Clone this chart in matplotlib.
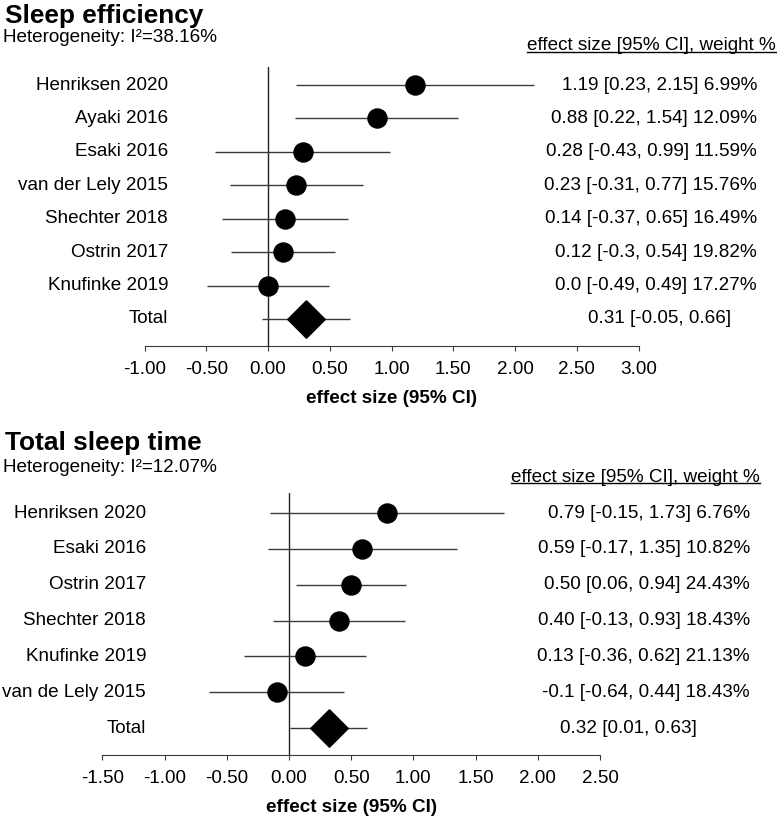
import numpy as np
import matplotlib
matplotlib.use("Agg")
import matplotlib.pyplot as plt
from matplotlib.transforms import blended_transform_factory
from matplotlib.lines import Line2D

plt.rcParams['font.family'] = ['Liberation Sans', 'DejaVu Sans']

# sleep efficiency
se_studies = ["Henriksen 2020", "Ayaki 2016", "Esaki 2016", "van der Lely 2015",
              "Shechter 2018", "Ostrin 2017", "Knufinke 2019"]
se_est = [1.19, 0.88, 0.28, 0.23, 0.14, 0.12, 0.0]
se_est_txt = ["1.19", "0.88", "0.28", "0.23", "0.14", "0.12", "0.0"]
se_lo = [0.23, 0.22, -0.43, -0.31, -0.37, -0.3, -0.49]
se_hi = [2.15, 1.54, 0.99, 0.77, 0.65, 0.54, 0.49]
se_weight = ["6.99%", "12.09%", "11.59%", "15.76%", "16.49%", "19.82%", "17.27%"]
se_total = [0.31, -0.05, 0.66]
se_i2 = "38.16%"
se_ticks = [-1.0, -0.5, 0.0, 0.5, 1.0, 1.5, 2.0, 2.5, 3.0]

# total sleep time
tst_studies = ["Henriksen 2020", "Esaki 2016", "Ostrin 2017", "Shechter 2018",
               "Knufinke 2019", "van de Lely 2015"]
tst_est = [0.79, 0.59, 0.50, 0.40, 0.13, -0.1]
tst_est_txt = ["0.79", "0.59", "0.50", "0.40", "0.13", "-0.1"]
tst_lo = [-0.15, -0.17, 0.06, -0.13, -0.36, -0.64]
tst_hi = [1.73, 1.35, 0.94, 0.93, 0.62, 0.44]
tst_weight = ["6.76%", "10.82%", "24.43%", "18.43%", "21.13%", "18.43%"]
tst_total = [0.32, 0.01, 0.63]
tst_i2 = "12.07%"
tst_ticks = [-1.5, -1.0, -0.5, 0.0, 0.5, 1.0, 1.5, 2.0, 2.5]

W, H = 777, 818
FS = 13.6
fig = plt.figure(figsize=(W / 100, H / 100), dpi=100)

LINE = "#3a3a3a"
diamond = [(0, 1), (1, 0), (0, -1), (-1, 0), (0, 1)]


def ci_txt(v):
    # the reference prints -0.3 without the trailing zero
    return "-0.3" if v == -0.3 else "%.2f" % v


def panel(box, ylim, studies, est, est_txt, lo, hi, weight, total, ticks, title, i2,
          title_y, het_y, head_y, head_right, lab_right, val_right, tot_right):
    left, right, top, bottom = box
    ax = fig.add_axes([left / W, 1 - bottom / H, (right - left) / W, (bottom - top) / H])
    n = len(studies)
    ys = np.arange(n, 0, -1)
    ax.set_xlim(ticks[0], ticks[-1])
    ax.set_ylim(*ylim)
    ax.axvline(0, color="#222222", lw=1.0, zorder=1)
    ax.hlines(ys, lo, hi, color=LINE, lw=1.0, zorder=2)
    ax.plot(est, ys, "o", color="black", ms=13.7, zorder=3)
    ax.hlines(0, total[1], total[2], color=LINE, lw=1.0, zorder=2)
    ax.plot([total[0]], [0], marker=diamond, color="black", ms=27, lw=0, zorder=3)

    for s in ["top", "right", "left"]:
        ax.spines[s].set_visible(False)
    ax.spines["bottom"].set_color(LINE)
    ax.set_yticks([])
    ax.set_xticks(ticks)
    ax.set_xticklabels(["%.2f" % t for t in ticks], fontsize=FS)
    ax.tick_params(axis="x", length=3.6, color=LINE, pad=7.5)
    ax.set_xlabel("effect size (95% CI)", fontsize=FS, fontweight="bold", labelpad=8)

    tr = blended_transform_factory(fig.transFigure, ax.transData)
    for y, name in zip(ys, studies):
        fig.text(lab_right / W, y, name, transform=tr, ha="right", va="center", fontsize=FS)
    fig.text(lab_right / W, 0, "Total", transform=tr, ha="right", va="center", fontsize=FS)

    for y, t, l, h, w in zip(ys, est_txt, lo, hi, weight):
        s = "%s [%s, %s] %s" % (t, ci_txt(l), ci_txt(h), w)
        fig.text(val_right / W, y, s, transform=tr, ha="right", va="center", fontsize=FS)
    fig.text(tot_right / W, 0, "%.2f [%.2f, %.2f]" % tuple(total), transform=tr,
             ha="right", va="center", fontsize=FS)

    fig.text(5 / W, 1 - title_y / H, title, ha="left", va="center", fontsize=18.9,
             fontweight="bold")
    fig.text(3 / W, 1 - het_y / H, "Heterogeneity: I\u00b2=" + i2, ha="left", va="center",
             fontsize=FS)
    head = fig.text(head_right / W, 1 - head_y / H, "effect size [95% CI], weight %",
                    ha="right", va="center", fontsize=FS)
    return ax, head


ax1, h1 = panel((144.5, 638.5, 67, 346), (-0.81, 7.54), se_studies, se_est, se_est_txt,
                se_lo, se_hi, se_weight, se_total, se_ticks, "Sleep efficiency", se_i2,
                16, 37, 46, 776, 168, 757, 731)
ax2, h2 = panel((102.4, 600, 493, 755), (-0.75, 6.56), tst_studies, tst_est, tst_est_txt,
                tst_lo, tst_hi, tst_weight, tst_total, tst_ticks, "Total sleep time", tst_i2,
                443, 468, 477, 760, 146, 750, 697)

# underline the column headers
fig.canvas.draw()
r = fig.canvas.get_renderer()
for h in (h1, h2):
    bb = h.get_window_extent(r)
    y = bb.y0 + 3
    fig.add_artist(Line2D([bb.x0 / W, bb.x1 / W], [y / H, y / H], color="black", lw=1.0,
                          transform=fig.transFigure))

fig.savefig("out.png", dpi=100)
